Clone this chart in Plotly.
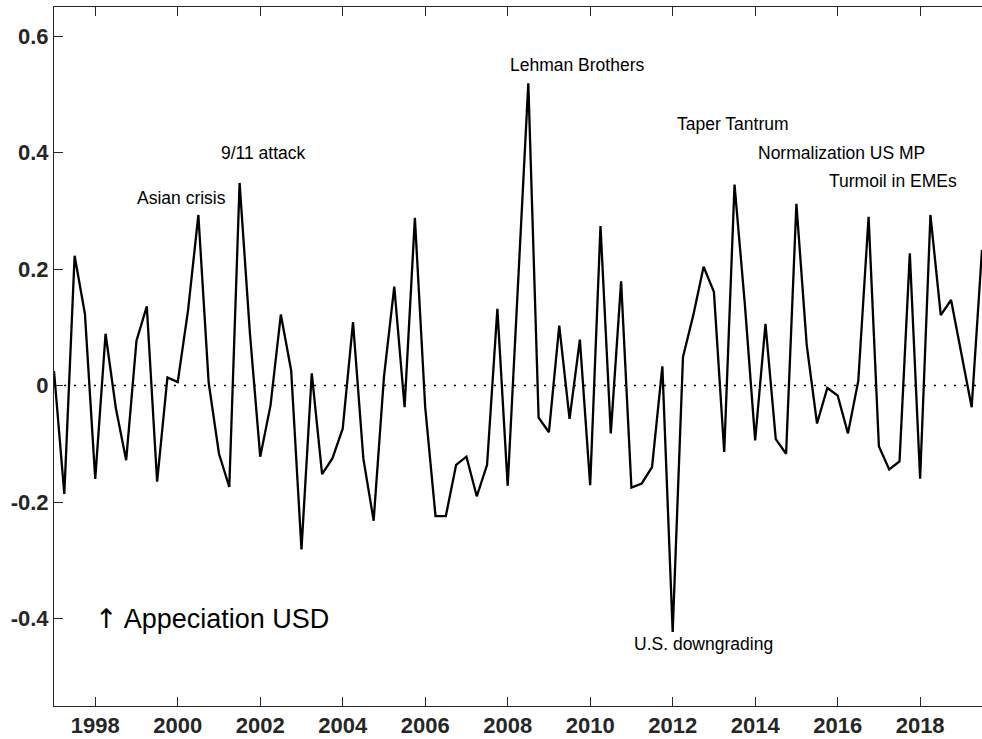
import plotly.graph_objects as go

# quarterly change, 1997Q1 .. 2019Q3
start_year = 1997
values = [
    0.025, -0.186, 0.223, 0.123, -0.160, 0.089, -0.039, -0.128,
    0.077, 0.136, -0.165, 0.014, 0.006, 0.129, 0.293, 0.005,
    -0.117, -0.174, 0.348, 0.090, -0.122, -0.034, 0.122, 0.026,
    -0.281, 0.021, -0.152, -0.125, -0.074, 0.109, -0.125, -0.232,
    0.015, 0.170, -0.037, 0.288, -0.037, -0.224, -0.224, -0.136,
    -0.122, -0.190, -0.136, 0.132, -0.172, 0.170, 0.519, -0.055,
    -0.080, 0.103, -0.057, 0.079, -0.171, 0.274, -0.082, 0.179,
    -0.175, -0.168, -0.140, 0.033, -0.423, 0.049, 0.121, 0.204,
    0.161, -0.114, 0.345, 0.140, -0.094, 0.106, -0.092, -0.117,
    0.312, 0.070, -0.065, -0.004, -0.017, -0.082, 0.008, 0.290,
    -0.104, -0.144, -0.130, 0.227, -0.160, 0.293, 0.121, 0.147,
    0.053, -0.037, 0.233,
]
dates = [start_year + i / 4 for i in range(len(values))]

x_ticks = list(range(1998, 2019, 2))
y_ticks = [-0.4, -0.2, 0, 0.2, 0.4, 0.6]
y_ticklabels = ['-0.4', '-0.2', '0', '0.2', '0.4', '0.6']

events = ['Asian crisis', '9/11 attack', 'Lehman Brothers', 'Taper Tantrum',
          'Normalization US MP', 'Turmoil in EMEs', 'U.S. downgrading']
event_x = [2000.10, 2002.08, 2009.69, 2013.46, 2016.10, 2017.33, 2012.75]
event_y = [0.322, 0.400, 0.550, 0.450, 0.400, 0.352, -0.443]

font = 'Liberation Sans, Arial, Helvetica, sans-serif'
axis_color = '#262626'

fig = go.Figure()
fig.add_trace(go.Scatter(
    x=dates, y=values, mode='lines',
    line=dict(color='black', width=2.3),
    showlegend=False, hoverinfo='skip'
))
fig.add_hline(y=0, line=dict(color='black', width=1.5, dash='2px,8px'))

for text, x, y in zip(events, event_x, event_y):
    fig.add_annotation(x=x, y=y, text=text, showarrow=False,
                       font=dict(size=17.5, color='black', family=font))

fig.add_annotation(
    x=2000.82, y=-0.4,
    text='<span style="font-family:DejaVu Sans">↑</span> Appeciation USD',
    showarrow=False, font=dict(size=27, color='black', family=font))

fig.update_xaxes(
    range=[1997, 2019.5], tickvals=x_ticks,
    ticks='inside', ticklen=9, tickcolor=axis_color,
    showline=True, linecolor=axis_color, linewidth=1, mirror='ticks',
    showgrid=False, zeroline=False,
    tickfont=dict(size=22, color=axis_color, family=font, weight='bold')
)
fig.update_yaxes(
    range=[-0.55, 0.65], tickvals=y_ticks, ticktext=y_ticklabels,
    ticks='inside', ticklen=9, tickcolor=axis_color,
    showline=True, linecolor=axis_color, linewidth=1, mirror=False,
    showgrid=False, zeroline=False,
    tickfont=dict(size=22, color=axis_color, family=font, weight='bold')
)
fig.update_layout(
    width=982, height=739,
    margin=dict(l=54, r=0, t=7, b=33),
    plot_bgcolor='white', paper_bgcolor='white',
    showlegend=False
)

# drop the default body margin so the figure fills the window exactly
fig.write_html("out.html", config={'displayModeBar': False},
               post_script="document.body.style.margin='0px';")
